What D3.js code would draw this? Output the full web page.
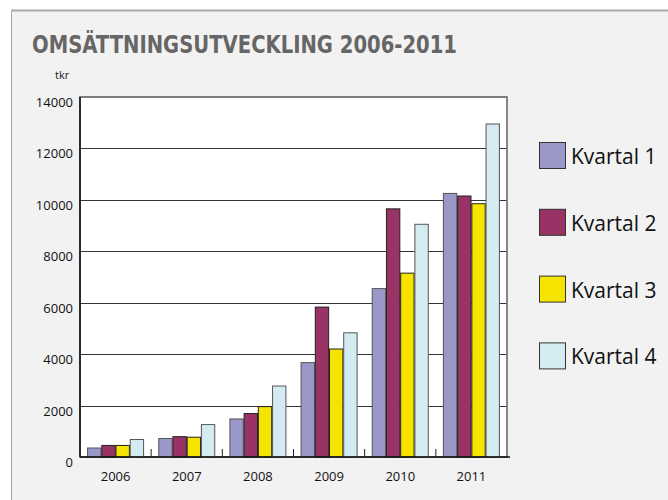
<!DOCTYPE html>
<html>
<head>
<meta charset="utf-8">
<script src="https://cdnjs.cloudflare.com/ajax/libs/d3/7.8.5/d3.min.js"></script>
<style>
  body { margin: 0; background: #fff; }
  svg { display: block; }
</style>
</head>
<body>
<svg></svg>
<script>
let years = ['2006', '2007', '2008', '2009', '2010', '2011'];
let quarters = ['Kvartal 1', 'Kvartal 2', 'Kvartal 3', 'Kvartal 4'];
let kvartal1 = [350, 720, 1480, 3670, 6550, 10250];
let kvartal2 = [450, 790, 1690, 5830, 9650, 10150];
let kvartal3 = [450, 770, 1960, 4200, 7150, 9850];
let kvartal4 = [680, 1260, 2760, 4830, 9050, 12950];
let yTicks = [0, 2000, 4000, 6000, 8000, 10000, 12000, 14000];

let series = [kvartal1, kvartal2, kvartal3, kvartal4];
let colors = ['#9a98c8', '#993366', '#f5e400', '#d3ebf1'];
let strokes = ['#555', '#222', '#222', '#555'];

let svgWidth = 668, svgHeight = 500;
let plotLeft = 80, plotRight = 507, plotTop = 97, plotBottom = 457;

let svg = d3.select('svg')
            .attr('width', svgWidth)
            .attr('height', svgHeight);

// panel background
svg.append('rect')
   .attr('x', 11.5).attr('y', 10.5)
   .attr('width', 700).attr('height', 520)
   .attr('fill', '#f2f2f2')
   .attr('stroke', '#a6a6a6')
   .attr('stroke-width', 1);
svg.append('line')
   .attr('x1', 11).attr('x2', 668).attr('y1', 10.5).attr('y2', 10.5)
   .attr('stroke', '#aaa').attr('stroke-width', 2);

svg.append('text')
   .attr('x', 32).attr('y', 53)
   .attr('font-family', "'Liberation Sans Narrow', 'DejaVu Sans Condensed', Roboto, sans-serif")
   .attr('font-stretch', 'condensed')
   .attr('font-weight', 'bold')
   .attr('font-size', 24)
   .attr('fill', '#666')
   .attr('textLength', 425)
   .attr('lengthAdjust', 'spacingAndGlyphs')
   .text('OMSÄTTNINGSUTVECKLING 2006-2011');

svg.append('text')
   .attr('x', 55).attr('y', 79)
   .attr('font-family', "'Liberation Sans Narrow', 'Open Sans', sans-serif")
   .attr('font-size', 11)
   .attr('fill', '#222')
   .text('tkr');

let x0 = d3.scaleBand()
           .domain(years)
           .range([plotLeft, plotRight])
           .paddingInner(0.213)
           .paddingOuter(0.1065);

let x1 = d3.scaleBand()
           .domain(d3.range(quarters.length))
           .range([0, x0.bandwidth()])
           .paddingInner(0.06);

let yScale = d3.scaleLinear()
               .domain([0, 14000])
               .range([plotBottom, plotTop]);

// plot area
svg.append('rect')
   .attr('x', plotLeft).attr('y', plotTop)
   .attr('width', plotRight - plotLeft).attr('height', plotBottom - plotTop)
   .attr('fill', '#fff')
   .attr('stroke', '#555')
   .attr('stroke-width', 1.5);

// grid lines
svg.append('g')
   .selectAll('line')
   .data(yTicks.slice(1, -1))
   .enter()
   .append('line')
   .attr('x1', plotLeft).attr('x2', plotRight)
   .attr('y1', (d) => Math.round(yScale(d)) + 0.5)
   .attr('y2', (d) => Math.round(yScale(d)) + 0.5)
   .attr('stroke', '#333')
   .attr('stroke-width', 1);

// right border lighter
svg.append('line')
   .attr('x1', plotRight).attr('x2', plotRight).attr('y1', plotTop).attr('y2', plotBottom)
   .attr('stroke', '#888').attr('stroke-width', 1.5);

// y labels
svg.append('g')
   .selectAll('text')
   .data(yTicks)
   .enter()
   .append('text')
   .attr('x', plotLeft - 7)
   .attr('y', (d) => yScale(d) + 10)
   .attr('text-anchor', 'end')
   .attr('font-family', "'Open Sans', sans-serif")
   .attr('font-size', 13)
   .attr('fill', '#111')
   .text((d) => d);

// bars
let groups = svg.append('g')
                .selectAll('g')
                .data(years)
                .enter()
                .append('g')
                .attr('transform', (d) => 'translate(' + x0(d) + ',0)');

groups.selectAll('rect')
      .data((d, i) => series.map((s, k) => ({ k: k, v: s[i] })))
      .enter()
      .append('rect')
      .attr('x', (d) => x1(d.k))
      .attr('y', (d) => yScale(d.v))
      .attr('width', x1.bandwidth())
      .attr('height', (d) => plotBottom - yScale(d.v))
      .attr('fill', (d) => colors[d.k])
      .attr('stroke', (d) => strokes[d.k])
      .attr('stroke-width', 1);

// baseline and left axis
svg.append('line')
   .attr('x1', plotLeft).attr('x2', plotRight + 3).attr('y1', plotBottom).attr('y2', plotBottom)
   .attr('stroke', '#111').attr('stroke-width', 1.5);
svg.append('line')
   .attr('x1', plotLeft).attr('x2', plotLeft).attr('y1', plotTop).attr('y2', plotBottom)
   .attr('stroke', '#111').attr('stroke-width', 1.5);

// category separators
let step = x0.step();
svg.append('g')
   .selectAll('line')
   .data(years.slice(1))
   .enter()
   .append('line')
   .attr('x1', (d) => x0(d) - x0.paddingInner() * step / 2)
   .attr('x2', (d) => x0(d) - x0.paddingInner() * step / 2)
   .attr('y1', plotBottom).attr('y2', plotBottom - 8)
   .attr('stroke', '#222').attr('stroke-width', 1);

// x labels
svg.append('g')
   .selectAll('text')
   .data(years)
   .enter()
   .append('text')
   .attr('x', (d) => x0(d) + x0.bandwidth() / 2)
   .attr('y', plotBottom + 24)
   .attr('text-anchor', 'middle')
   .attr('font-family', "'Open Sans', sans-serif")
   .attr('font-size', 13)
   .attr('fill', '#111')
   .text((d) => d);

// legend
let legend = svg.append('g')
                .selectAll('g')
                .data(quarters)
                .enter()
                .append('g')
                .attr('transform', (d, i) => 'translate(539,' + (142 + i * 66.8) + ')');

legend.append('rect')
      .attr('x', 0.5).attr('y', 0.5)
      .attr('width', 26).attr('height', 26)
      .attr('fill', (d, i) => colors[i])
      .attr('stroke', '#333')
      .attr('stroke-width', 1);

legend.append('text')
      .attr('x', 32).attr('y', 22)
      .attr('font-family', "'Open Sans', sans-serif")
      .attr('font-size', 21)
      .attr('fill', '#111')
      .text((d) => d);
</script>
</body>
</html>
